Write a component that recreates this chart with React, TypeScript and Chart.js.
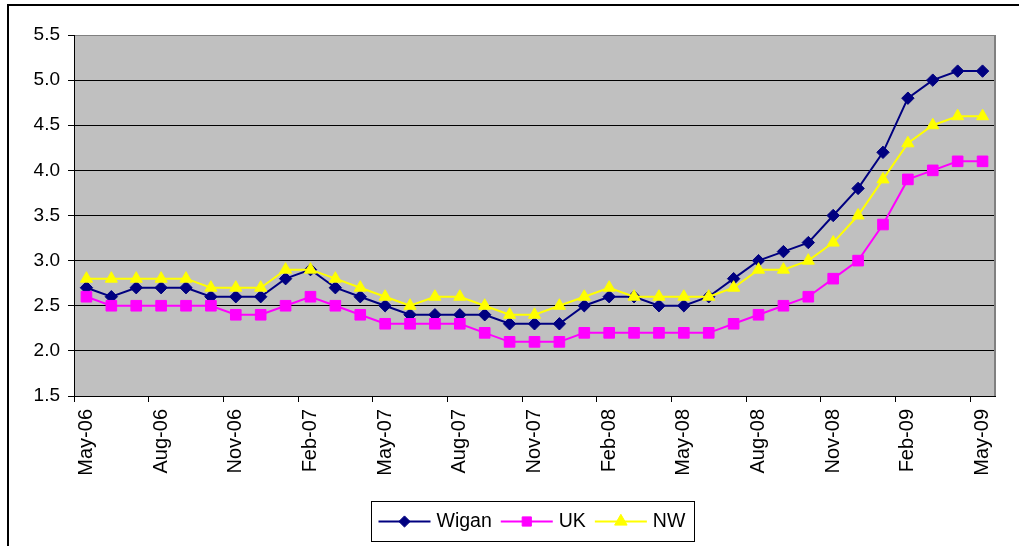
import React, { useEffect, useRef } from 'react';
import { Chart, registerables } from 'chart.js';
import { drawPoint } from 'chart.js/helpers';

Chart.register(...registerables);

const months = [
  'May-06', 'Jun-06', 'Jul-06', 'Aug-06', 'Sep-06', 'Oct-06', 'Nov-06', 'Dec-06',
  'Jan-07', 'Feb-07', 'Mar-07', 'Apr-07', 'May-07', 'Jun-07', 'Jul-07', 'Aug-07',
  'Sep-07', 'Oct-07', 'Nov-07', 'Dec-07', 'Jan-08', 'Feb-08', 'Mar-08', 'Apr-08',
  'May-08', 'Jun-08', 'Jul-08', 'Aug-08', 'Sep-08', 'Oct-08', 'Nov-08', 'Dec-08',
  'Jan-09', 'Feb-09', 'Mar-09', 'Apr-09', 'May-09',
];

const wigan = [
  2.7, 2.6, 2.7, 2.7, 2.7, 2.6, 2.6, 2.6, 2.8, 2.9, 2.7, 2.6, 2.5,
  2.4, 2.4, 2.4, 2.4, 2.3, 2.3, 2.3, 2.5, 2.6, 2.6, 2.5, 2.5,
  2.6, 2.8, 3.0, 3.1, 3.2, 3.5, 3.8, 4.2, 4.8, 5.0, 5.1, 5.1,
];

const uk = [
  2.6, 2.5, 2.5, 2.5, 2.5, 2.5, 2.4, 2.4, 2.5, 2.6, 2.5, 2.4, 2.3,
  2.3, 2.3, 2.3, 2.2, 2.1, 2.1, 2.1, 2.2, 2.2, 2.2, 2.2, 2.2,
  2.2, 2.3, 2.4, 2.5, 2.6, 2.8, 3.0, 3.4, 3.9, 4.0, 4.1, 4.1,
];

const nw = [
  2.8, 2.8, 2.8, 2.8, 2.8, 2.7, 2.7, 2.7, 2.9, 2.9, 2.8, 2.7, 2.6,
  2.5, 2.6, 2.6, 2.5, 2.4, 2.4, 2.5, 2.6, 2.7, 2.6, 2.6, 2.6,
  2.6, 2.7, 2.9, 2.9, 3.0, 3.2, 3.5, 3.9, 4.3, 4.5, 4.6, 4.6,
];

const seriesNames = ['Wigan', 'UK', 'NW'];
const labelEvery = 3;
const yMin = 1.5;
const yMax = 5.5;
const yStep = 0.5;

const FONT = "'Liberation Sans', Arial, sans-serif";

const framePlugin = {
  id: 'frame',
  beforeDraw(chart: any) {
    const { ctx, chartArea: ca } = chart;
    ctx.save();
    ctx.fillStyle = '#ffffff';
    ctx.fillRect(0, 0, chart.width, chart.height);
    ctx.fillStyle = '#000000';
    ctx.fillRect(7, 4, chart.width - 7, 2);
    ctx.fillRect(7, 4, 2, chart.height - 4);
    ctx.fillStyle = '#C0C0C0';
    ctx.fillRect(ca.left, ca.top, ca.right - ca.left, ca.bottom - ca.top);
    ctx.restore();
  },
  beforeDatasetsDraw(chart: any) {
    const { ctx, chartArea: ca } = chart;
    ctx.save();
    ctx.strokeStyle = '#808080';
    ctx.lineWidth = 2;
    ctx.beginPath();
    ctx.moveTo(ca.right, ca.top);
    ctx.lineTo(ca.right, ca.bottom);
    ctx.stroke();
    ctx.restore();
  },
};

const legendPlugin = {
  id: 'boxLegend',
  afterDraw(chart: any) {
    const { ctx, chartArea: ca } = chart;
    ctx.save();
    ctx.font = `19.5px ${FONT}`;
    const lineLen = 52;
    const gapText = 6;
    const gapItem = 9;
    const padL = 7;
    const padR = 9;
    const boxH = 40;
    const items = chart.data.datasets.map((ds: any) => ({ ds, w: ctx.measureText(ds.label).width }));
    let total = padL + padR;
    items.forEach((it: any, i: number) => {
      total += lineLen + gapText + it.w + (i < items.length - 1 ? gapItem : 0);
    });
    const cx = (ca.left + ca.right) / 2 - 2;
    const left = Math.round(cx - total / 2) + 0.5;
    const top = Math.round(ca.bottom + 105) + 0.5;
    ctx.strokeStyle = '#000000';
    ctx.lineWidth = 1;
    ctx.strokeRect(left, top, Math.round(total), boxH);
    let x = left + padL;
    const y = top + boxH / 2;
    items.forEach((it: any) => {
      const ds = it.ds;
      ctx.strokeStyle = ds.borderColor;
      ctx.lineWidth = 2;
      ctx.beginPath();
      ctx.moveTo(x, y);
      ctx.lineTo(x + lineLen, y);
      ctx.stroke();
      ctx.fillStyle = ds.pointBackgroundColor;
      ctx.strokeStyle = ds.pointBorderColor;
      ctx.lineWidth = 1;
      drawPoint(ctx, { pointStyle: ds.pointStyle, rotation: 0, radius: ds.legendRadius, borderWidth: 1 }, x + lineLen / 2, y);
      x += lineLen + gapText;
      ctx.fillStyle = '#000000';
      ctx.textAlign = 'left';
      ctx.textBaseline = 'middle';
      ctx.fillText(ds.label, x, y);
      x += it.w + gapItem;
    });
    ctx.restore();
  },
};

export default function App() {
  const canvasRef = useRef<HTMLCanvasElement | null>(null);

  useEffect(() => {
    const canvas = canvasRef.current;
    if (!canvas) return;
    const colors = ['#000080', '#FF00FF', '#FFFF00'];
    const styles = ['rectRot', 'rect', 'triangle'];
    const radii = [6.2, 7.5, 7];
    const legendRadii = [5.6, 6.5, 7.2];
    const orders = [2, 1, 0];
    const values = [wigan, uk, nw];
    const chart = new Chart(canvas, {
      type: 'line',
      data: {
        labels: months,
        datasets: seriesNames.map((name, i) => ({
          label: name,
          data: values[i],
          borderColor: colors[i],
          backgroundColor: colors[i],
          pointBackgroundColor: colors[i],
          pointBorderColor: colors[i],
          pointBorderWidth: 1,
          pointStyle: styles[i],
          pointRadius: radii[i],
          legendRadius: legendRadii[i],
          borderWidth: 2,
          tension: 0,
          fill: false,
          order: orders[i],
        })) as any,
      },
      options: {
        animation: false,
        responsive: false,
        devicePixelRatio: 1,
        events: [],
        layout: { padding: { top: 35, right: 24, left: 0, bottom: 0 } },
        plugins: {
          legend: { display: false },
          tooltip: { enabled: false },
          title: { display: false },
        },
        scales: {
          x: {
            type: 'category',
            offset: true,
            afterFit: (scale: any) => {
              scale.height = 150;
            },
            grid: {
              offset: true,
              drawOnChartArea: false,
              drawTicks: true,
              tickLength: 6,
              tickColor: (c: any) => (typeof c.index === 'number' && c.index % labelEvery === 0 ? '#000000' : 'rgba(0,0,0,0)'),
            },
            border: { color: '#000000', width: 1 },
            ticks: {
              autoSkip: false,
              maxRotation: 90,
              minRotation: 90,
              padding: 7,
              color: '#000000',
              font: { family: FONT, size: 20 },
              callback: (_v: any, idx: number) => (idx % labelEvery === 0 ? months[idx] : ''),
            },
          },
          y: {
            type: 'linear',
            min: yMin,
            max: yMax,
            afterFit: (scale: any) => {
              scale.width = 74;
            },
            grid: {
              color: (c: any) => (c.tick && c.tick.value === yMax ? '#808080' : '#000000'),
              tickColor: '#000000',
              lineWidth: 1,
              drawTicks: true,
              tickLength: 6,
            },
            border: { color: '#000000', width: 1 },
            ticks: {
              stepSize: yStep,
              padding: 8,
              color: '#000000',
              font: { family: FONT, size: 19 },
              callback: (v: any) => Number(v).toFixed(1),
            },
          },
        },
      },
      plugins: [framePlugin, legendPlugin],
    });
    return () => chart.destroy();
  }, []);

  return (
    <div style={{ position: 'absolute', left: 0, top: 0, width: 1019, height: 546 }}>
      <canvas ref={canvasRef} width={1019} height={546} style={{ display: 'block' }} />
    </div>
  );
}
